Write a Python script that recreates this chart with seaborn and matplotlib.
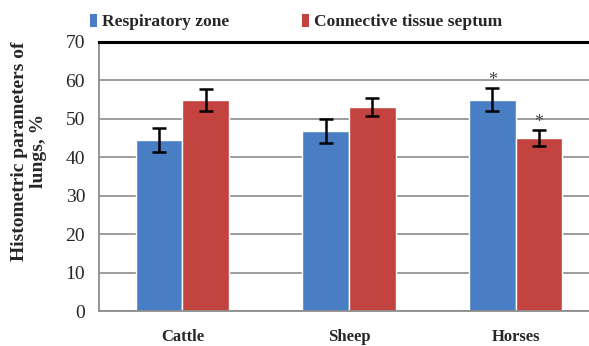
import matplotlib
matplotlib.use("Agg")
import matplotlib.pyplot as plt
import seaborn as sns
import pandas as pd
from matplotlib.patches import Patch

animals = ["Cattle", "Sheep", "Horses"]
series = ["Respiratory zone", "Connective tissue septum"]
respiratory = [44.5, 46.8, 55.0]
respiratory_err = [3.2, 3.1, 3.0]
septum = [54.9, 53.1, 45.0]
septum_err = [2.9, 2.4, 2.1]
significant = {"Respiratory zone": [False, False, True],
               "Connective tissue septum": [False, False, True]}
yticks = [0, 10, 20, 30, 40, 50, 60, 70]

colors = ["#4A7EC4", "#C2433F"]

df = pd.DataFrame({
    "animal": animals * 2,
    "group": [series[0]] * 3 + [series[1]] * 3,
    "value": respiratory + septum,
    "err": respiratory_err + septum_err,
})

sns.set_style("white")
plt.rcParams["font.family"] = ["Liberation Serif", "DejaVu Serif"]

fig = plt.figure(figsize=(5.89, 3.46), dpi=100)
ax = fig.add_axes([99 / 589, 1 - 311 / 346, 500 / 589, 269 / 346])

sns.barplot(data=df, x="animal", y="value", hue="group", order=animals,
            hue_order=series, palette=colors, width=0.56, errorbar=None,
            saturation=1, legend=False, ax=ax, zorder=2)

errs = {series[0]: respiratory_err, series[1]: septum_err}
for cont, name in zip(ax.containers, series):
    xs = [b.get_x() + b.get_width() / 2 for b in cont]
    hs = [b.get_height() for b in cont]
    ax.errorbar(xs, hs, yerr=errs[name], fmt="none", ecolor="black",
                elinewidth=1.8, capsize=5, capthick=1.8, zorder=3)
    for x, h, e, s in zip(xs, hs, errs[name], significant[name]):
        if s:
            ax.text(x, h + e + 2.0, "*", ha="center", va="center",
                    fontsize=13, color="#444444")

ax.set_ylim(0, 70)
ax.set_yticks(yticks)
ax.set_yticklabels([str(t) for t in yticks], fontsize=14)
ax.set_xlim(-0.5, 2.5)
ax.yaxis.grid(True, color="#8c8c8c", linewidth=1.2, zorder=0)
ax.set_axisbelow(True)

# category boundary ticks on the x axis
ax.set_xticks([-0.5, 0.5, 1.5, 2.5])
ax.set_xticklabels([])
ax.tick_params(axis="x", direction="out", length=5, width=1, color="#8c8c8c")
ax.tick_params(axis="y", direction="out", length=6, width=1, color="#8c8c8c", pad=4)
for i, a in enumerate(animals):
    ax.text(i, -4.8, a, ha="center", va="top", fontsize=12,
            fontweight="bold", transform=ax.transData)

for side in ["left", "bottom"]:
    ax.spines[side].set_color("#8c8c8c")
    ax.spines[side].set_linewidth(1.3)
ax.spines["top"].set_color("black")
ax.spines["top"].set_linewidth(2.2)
ax.spines["right"].set_visible(False)

ax.set_xlabel("")
ax.set_ylabel("")
fig.text(29 / 589, 1 - 151 / 346, "Histometric parameters of\nlungs, %",
         rotation=90, ha="center", va="center", fontsize=14,
         fontweight="bold", linespacing=1.1)

handles = [Patch(facecolor=c, edgecolor="none") for c in colors]
fig.legend(handles, series, loc="center left",
           bbox_to_anchor=(74 / 589, 1 - 22 / 346), ncol=2, frameon=False,
           handlelength=0.4, handleheight=0.75, handletextpad=0.3,
           columnspacing=4.2, prop={"weight": "bold", "size": 12.5})

fig.savefig("out.png", dpi=100)
